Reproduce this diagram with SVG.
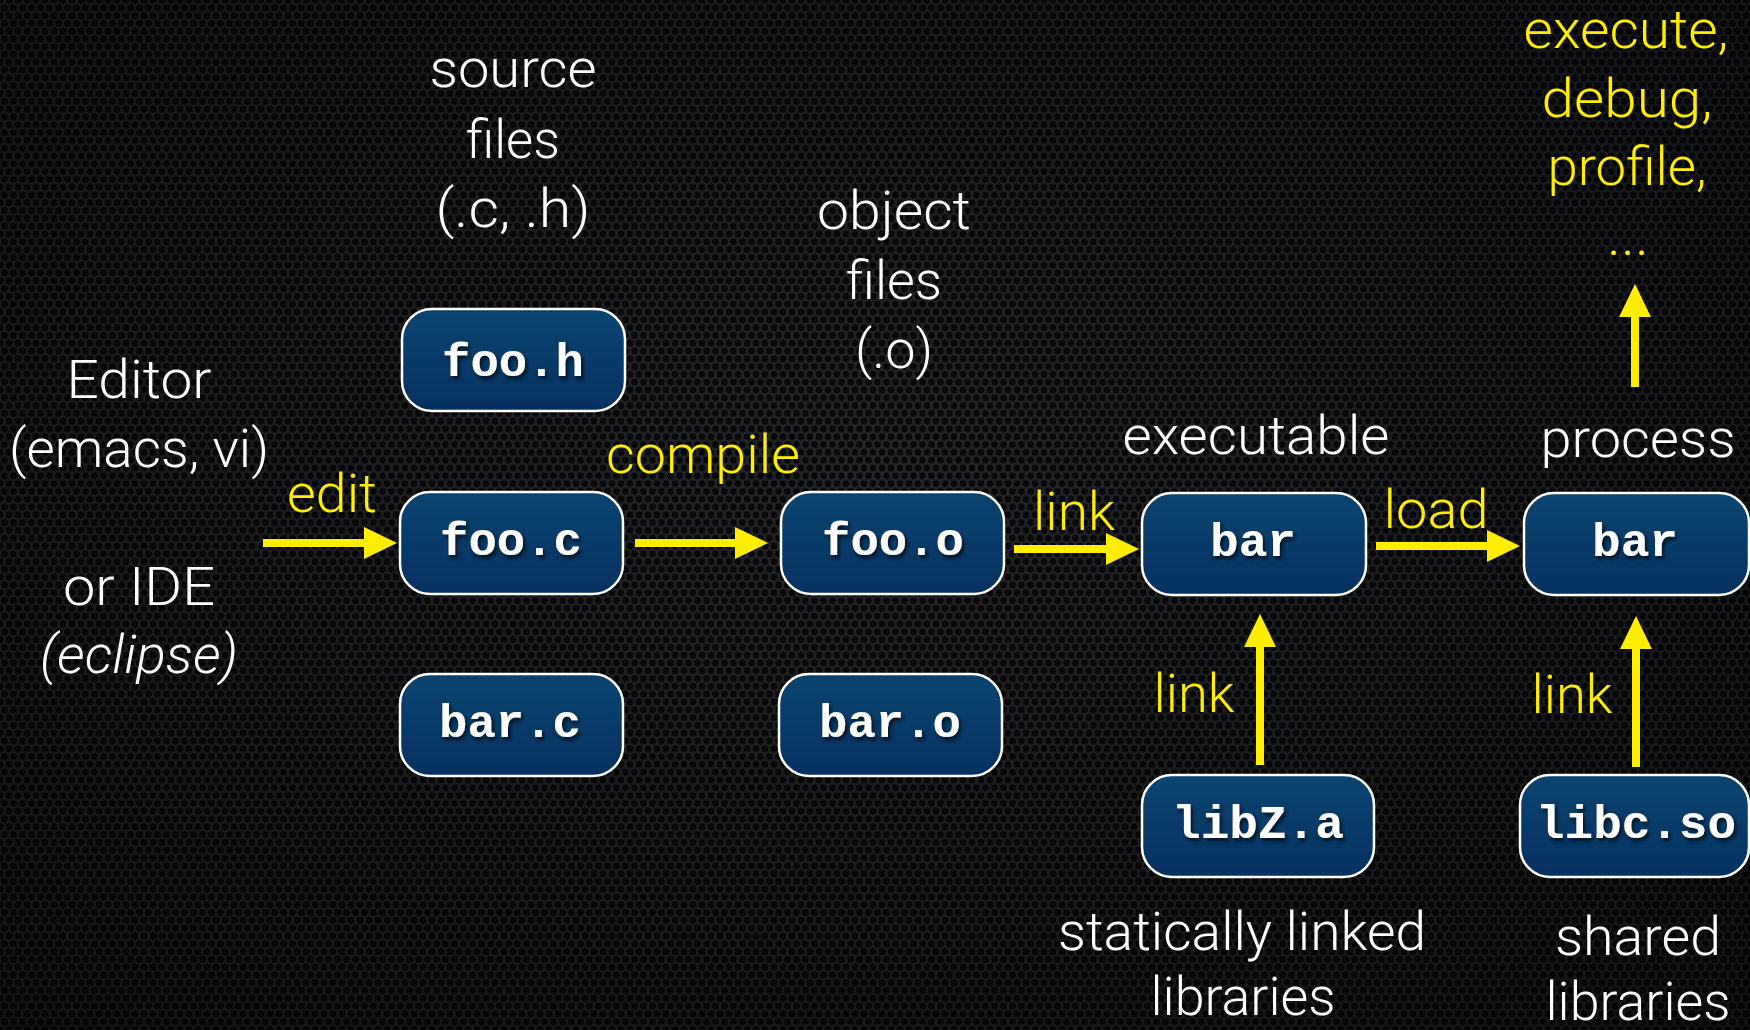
<svg xmlns="http://www.w3.org/2000/svg" width="1750" height="1030" viewBox="0 0 1750 1030">
<defs>
  <pattern id="holes" patternUnits="userSpaceOnUse" width="9" height="15.6">
    <rect width="9" height="15.6" fill="#26272a"/>
    <circle cx="0" cy="0" r="3.3" fill="#080808"/>
    <circle cx="9" cy="0" r="3.3" fill="#080808"/>
    <circle cx="4.5" cy="7.8" r="3.3" fill="#080808"/>
    <circle cx="0" cy="15.6" r="3.3" fill="#080808"/>
    <circle cx="9" cy="15.6" r="3.3" fill="#080808"/>
  </pattern>
  <radialGradient id="vig" cx="0.5" cy="0.45" r="0.75">
    <stop offset="0" stop-color="#000" stop-opacity="0.05"/>
    <stop offset="1" stop-color="#000" stop-opacity="0.55"/>
  </radialGradient>
  <linearGradient id="boxfill" x1="0" y1="0" x2="0" y2="1">
    <stop offset="0" stop-color="#0b4470"/>
    <stop offset="1" stop-color="#063160"/>
  </linearGradient>
  <filter id="tshadow" x="-10%" y="-30%" width="130%" height="170%">
    <feDropShadow dx="2" dy="3" stdDeviation="2" flood-color="#000" flood-opacity="0.7"/>
  </filter>
  <marker id="head" markerUnits="userSpaceOnUse" markerWidth="34" markerHeight="34" refX="0" refY="16" orient="auto">
    <path d="M0,0 L33,16 L0,32 Z" fill="#ffee00"/>
  </marker>
  <style>
    .box rect { fill: url(#boxfill); stroke: #ffffff; stroke-width: 2.5; }
    .box text { font-family: "Liberation Mono", "Courier New", monospace; font-weight: bold; font-size: 46px; fill: #ffffff; text-anchor: middle; filter: url(#tshadow); }
    .lbl { font-family: Roboto, "Liberation Sans", Arial, sans-serif; font-weight: 300; font-size: 54px; fill: #ffffff; text-anchor: middle; }
    .yel { fill: #ffee00; }
    .conn line { stroke: #ffee00; stroke-width: 8; fill: none; marker-end: url(#head); }
  </style>
</defs>

<rect width="1750" height="1030" fill="url(#holes)"/>
<rect width="1750" height="1030" fill="url(#vig)"/>

<g id="labels">
  <text class="lbl" x="513" y="87" textLength="167" lengthAdjust="spacingAndGlyphs">source</text>
  <text class="lbl" x="513" y="158" textLength="94" lengthAdjust="spacingAndGlyphs">files</text>
  <text class="lbl" x="513" y="227" textLength="155" lengthAdjust="spacingAndGlyphs">(.c, .h)</text>

  <text class="lbl" x="894" y="229" textLength="154" lengthAdjust="spacingAndGlyphs">object</text>
  <text class="lbl" x="894" y="299" textLength="96" lengthAdjust="spacingAndGlyphs">files</text>
  <text class="lbl" x="894" y="368" textLength="78" lengthAdjust="spacingAndGlyphs">(.o)</text>

  <text class="lbl" x="139" y="398" textLength="145" lengthAdjust="spacingAndGlyphs">Editor</text>
  <text class="lbl" x="139" y="467" textLength="260" lengthAdjust="spacingAndGlyphs">(emacs, vi)</text>
  <text class="lbl" x="139" y="605" textLength="152" lengthAdjust="spacingAndGlyphs">or IDE</text>
  <text class="lbl" x="139" y="673" font-style="italic" textLength="198" lengthAdjust="spacingAndGlyphs">(eclipse)</text>

  <text class="lbl" x="1256" y="454" textLength="267" lengthAdjust="spacingAndGlyphs">executable</text>
  <text class="lbl" x="1638" y="457" textLength="195" lengthAdjust="spacingAndGlyphs">process</text>

  <text class="lbl" x="1242" y="950" textLength="368" lengthAdjust="spacingAndGlyphs">statically linked</text>
  <text class="lbl" x="1243" y="1015" textLength="185" lengthAdjust="spacingAndGlyphs">libraries</text>
  <text class="lbl" x="1638" y="955" textLength="166" lengthAdjust="spacingAndGlyphs">shared</text>
  <text class="lbl" x="1638" y="1020" textLength="185" lengthAdjust="spacingAndGlyphs">libraries</text>

  <text class="lbl yel" x="1626" y="48" textLength="205" lengthAdjust="spacingAndGlyphs">execute,</text>
  <text class="lbl yel" x="1627" y="117" textLength="171" lengthAdjust="spacingAndGlyphs">debug,</text>
  <text class="lbl yel" x="1627" y="185" textLength="159" lengthAdjust="spacingAndGlyphs">profile,</text>
  <text class="lbl yel" x="1628" y="255" font-weight="400" textLength="42" lengthAdjust="spacingAndGlyphs">...</text>

  <text class="lbl yel" x="332" y="512" textLength="90" lengthAdjust="spacingAndGlyphs">edit</text>
  <text class="lbl yel" x="703" y="473" textLength="194" lengthAdjust="spacingAndGlyphs">compile</text>
  <text class="lbl yel" x="1074" y="530" textLength="82" lengthAdjust="spacingAndGlyphs">link</text>
  <text class="lbl yel" x="1436" y="528" textLength="105" lengthAdjust="spacingAndGlyphs">load</text>
  <text class="lbl yel" x="1194" y="712" textLength="81" lengthAdjust="spacingAndGlyphs">link</text>
  <text class="lbl yel" x="1572" y="713" textLength="81" lengthAdjust="spacingAndGlyphs">link</text>
</g>

<g id="connectors" class="conn">
  <line x1="263" y1="543" x2="364" y2="543"/>
  <line x1="635" y1="543" x2="735" y2="543"/>
  <line x1="1014" y1="549" x2="1106" y2="549"/>
  <line x1="1376" y1="546" x2="1487" y2="546"/>
  <line x1="1260" y1="765" x2="1260" y2="647"/>
  <line x1="1636" y1="767" x2="1636" y2="649"/>
  <line x1="1635" y1="387" x2="1635" y2="317"/>
</g>

<g id="foo_h" class="box"><rect x="402" y="309" width="223" height="102" rx="30"/><text x="513" y="376" textLength="142" lengthAdjust="spacingAndGlyphs">foo.h</text></g>
<g id="foo_c" class="box"><rect x="400" y="492" width="223" height="102" rx="30"/><text x="511" y="555" textLength="142" lengthAdjust="spacingAndGlyphs">foo.c</text></g>
<g id="bar_c" class="box"><rect x="400" y="674" width="223" height="102" rx="30"/><text x="510" y="737" textLength="142" lengthAdjust="spacingAndGlyphs">bar.c</text></g>
<g id="foo_o" class="box"><rect x="781" y="492" width="223" height="102" rx="30"/><text x="893" y="555" textLength="142" lengthAdjust="spacingAndGlyphs">foo.o</text></g>
<g id="bar_o" class="box"><rect x="779" y="674" width="223" height="102" rx="30"/><text x="890" y="737" textLength="142" lengthAdjust="spacingAndGlyphs">bar.o</text></g>
<g id="bar_exe" class="box"><rect x="1142" y="493" width="224" height="102" rx="30"/><text x="1253" y="556" textLength="86" lengthAdjust="spacingAndGlyphs">bar</text></g>
<g id="bar_proc" class="box"><rect x="1524" y="493" width="225" height="102" rx="30"/><text x="1635" y="556" textLength="86" lengthAdjust="spacingAndGlyphs">bar</text></g>
<g id="libZ_a" class="box"><rect x="1142" y="775" width="232" height="102" rx="30"/><text x="1258" y="838" textLength="172" lengthAdjust="spacingAndGlyphs">libZ.a</text></g>
<g id="libc_so" class="box"><rect x="1520" y="775" width="229" height="102" rx="30"/><text x="1636" y="838" textLength="200" lengthAdjust="spacingAndGlyphs">libc.so</text></g>
</svg>
